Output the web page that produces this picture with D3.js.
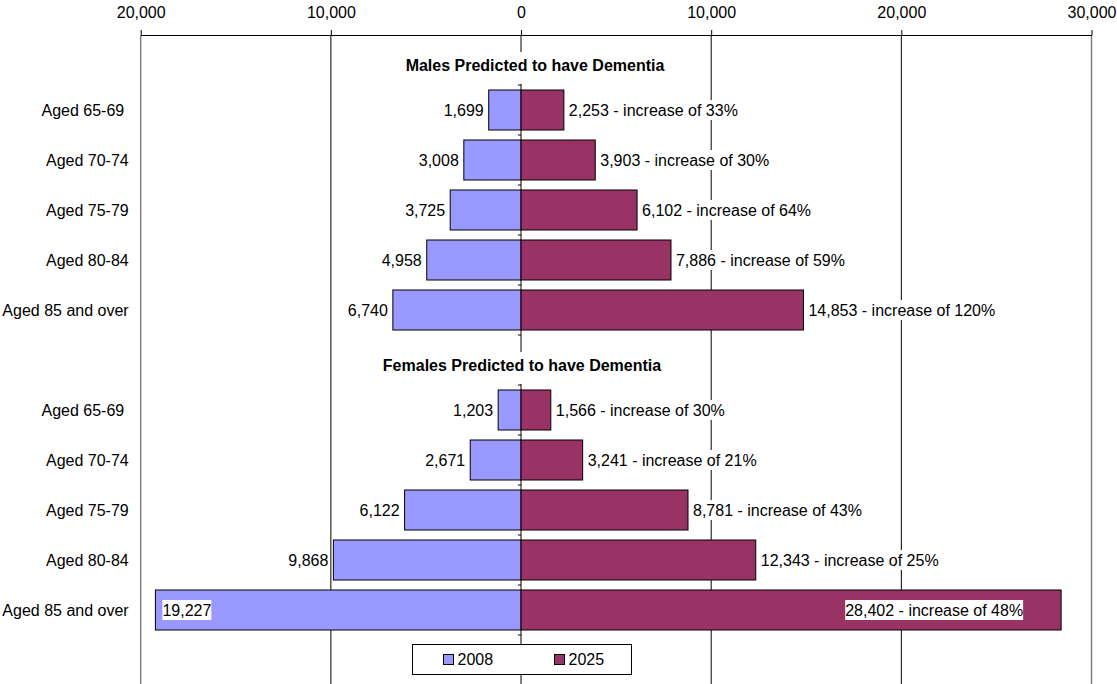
<!DOCTYPE html>
<html>
<head>
<meta charset="utf-8">
<script src="https://cdn.jsdelivr.net/npm/d3@7"></script>
<style>
  body { margin: 0; background: #fff; }
  svg { font-family: "Liberation Sans", Arial, sans-serif; }
</style>
</head>
<body>
<div id="chart"></div>
<script>
const width = 1117
const height = 684
const color_2008 = '#9999FF'
const color_2025 = '#993366'

// data
const ageGroups = ["Aged 65-69 ", "Aged 70-74", "Aged 75-79", "Aged 80-84", "Aged 85 and over"]
const groupTitles = ["Males Predicted to have Dementia", "Females Predicted to have Dementia"]
const seriesNames = ["2008", "2025"]
const males2008 = [1699, 3008, 3725, 4958, 6740]
const males2025 = [2253, 3903, 6102, 7886, 14853]
const malesIncrease = [33, 30, 64, 59, 120]
const females2008 = [1203, 2671, 6122, 9868, 19227]
const females2025 = [1566, 3241, 8781, 12343, 28402]
const femalesIncrease = [30, 21, 43, 25, 48]
const tickValues = [-20000, -10000, 0, 10000, 20000, 30000]

const fmt = d3.format(",")

// 13 slots: title, 5 rows, title, 5 rows, legend
let rows = []
const groups = [[males2008, males2025, malesIncrease], [females2008, females2025, femalesIncrease]]
groups.forEach((g, gi) => {
    rows.push({slot: rows.length, title: groupTitles[gi], gi: gi})
    ageGroups.forEach((a, i) => {
        rows.push({slot: rows.length, label: a, v2008: g[0][i], v2025: g[1][i], pct: g[2][i]})
    })
})
const legendSlot = rows.length

const svg = d3.select("#chart")
    .append("svg")
    .attr("width", width)
    .attr("height", height)

const x = d3.scaleLinear().domain([-20000, 30000]).range([140.7, 1091.5])
const y = d3.scaleBand()
    .domain(d3.range(legendSlot + 1))
    .range([35, 685])
    .paddingInner(0.2)
    .paddingOuter(0.1)
const step = y.step()
const slotTop = s => y(s) - y.paddingInner() * step / 2

/* gridlines */
svg.append("g")
    .selectAll("line")
    .data(tickValues.filter(v => v !== 0))
    .enter()
    .append("line")
    .attr("x1", d => x(d))
    .attr("x2", d => x(d))
    .attr("y1", 35)
    .attr("y2", height)
    .attr("stroke", d => (d === tickValues[0] || d === tickValues[tickValues.length - 1]) ? "#808080" : "#000")
    .attr("stroke-width", d => (d === tickValues[0] || d === tickValues[tickValues.length - 1]) ? 1.5 : 1)

/* top axis */
const axis = svg.append("g")
    .attr("transform", "translate(0,35)")
    .call(d3.axisTop(x)
        .tickValues(tickValues)
        .tickFormat(d => fmt(Math.abs(d)))
        .tickSize(5)
        .tickSizeOuter(0)
        .tickPadding(12))
axis.select(".domain").attr("stroke", "#000")
axis.selectAll(".tick line").attr("stroke", "#000")
axis.selectAll(".tick text")
    .attr("font-size", 16)
    .attr("font-family", '"Liberation Sans", Arial, sans-serif')
    .attr("fill", "#000")

/* centre axis */
svg.append("line")
    .attr("x1", x(0))
    .attr("x2", x(0))
    .attr("y1", 35)
    .attr("y2", height)
    .attr("stroke", "#000")
svg.append("g")
    .selectAll("line")
    .data(d3.range(1, legendSlot + 1))
    .enter()
    .append("line")
    .attr("x1", x(0) - 3)
    .attr("x2", x(0))
    .attr("y1", d => slotTop(d))
    .attr("y2", d => slotTop(d))
    .attr("stroke", "#000")

const dataRows = rows.filter(r => r.title === undefined)
const titleRows = rows.filter(r => r.title !== undefined)

/* bars */
svg.append("g")
    .selectAll("rect")
    .data(dataRows)
    .enter()
    .append("rect")
    .attr("x", d => x(-d.v2008))
    .attr("y", d => y(d.slot))
    .attr("width", d => x(0) - x(-d.v2008))
    .attr("height", y.bandwidth())
    .attr("fill", color_2008)
    .attr("stroke", "#000")
svg.append("g")
    .selectAll("rect")
    .data(dataRows)
    .enter()
    .append("rect")
    .attr("x", x(0))
    .attr("y", d => y(d.slot))
    .attr("width", d => x(d.v2025) - x(0))
    .attr("height", y.bandwidth())
    .attr("fill", color_2025)
    .attr("stroke", "#000")

/* category labels */
svg.append("g")
    .selectAll("text")
    .data(dataRows)
    .enter()
    .append("text")
    .attr("xml:space", "preserve")
    .style("white-space", "pre")
    .attr("x", x(-20000) - 12)
    .attr("y", d => y(d.slot) + y.bandwidth() / 2 + 6)
    .attr("text-anchor", "end")
    .attr("font-size", 16)
    .text(d => d.label)

/* group titles */
titleRows.forEach(t => {
    const g = svg.append("g")
    const bg = g.append("rect").attr("fill", "#fff")
    const txt = g.append("text")
        .attr("x", x(0) + (t.gi === 0 ? 14 : 1))
        .attr("y", y(t.slot) + y.bandwidth() / 2 + 11)
        .attr("text-anchor", "middle")
        .attr("font-size", 16)
        .attr("font-weight", "bold")
        .text(t.title)
    const w = txt.node().getComputedTextLength()
    bg.attr("x", +txt.attr("x") - w / 2 - 2)
        .attr("y", slotTop(t.slot) + 17)
        .attr("width", w + 4)
        .attr("height", step - 18)
})

/* value labels with white background */
function addLabel(str, xpos, anchor, row) {
    const g = svg.append("g")
    const bg = g.append("rect").attr("fill", "#fff")
    const txt = g.append("text")
        .attr("y", y(row.slot) + y.bandwidth() / 2 + 6)
        .attr("font-size", 16)
        .attr("fill", "#000")
        .text(str)
    const w = txt.node().getComputedTextLength()
    const x0 = anchor === "end" ? xpos - w : xpos
    txt.attr("x", x0)
    bg.attr("x", x0)
        .attr("y", y(row.slot) + y.bandwidth() / 2 - 10)
        .attr("width", w)
        .attr("height", 20)
}

dataRows.forEach(r => {
    const left = fmt(r.v2008)
    const right = `${fmt(r.v2025)} - increase of ${r.pct}%`
    // left label: outside unless it would run past the plot edge
    const lx = x(-r.v2008)
    const probeL = svg.append("text").attr("font-size", 16).text(left)
    const wl = probeL.node().getComputedTextLength()
    probeL.remove()
    if (lx - 5 - wl < x(-20000)) addLabel(left, lx + 7, "start", r)
    else addLabel(left, lx - 5, "end", r)

    const rx = x(r.v2025)
    const probeR = svg.append("text").attr("font-size", 16).text(right)
    const wr = probeR.node().getComputedTextLength()
    probeR.remove()
    if (rx + 5 + wr > x(30000)) addLabel(right, rx - 38, "end", r)
    else addLabel(right, rx + 5, "start", r)
})

/* legend */
const lg = svg.append("g")
lg.append("rect")
    .attr("x", 412.5)
    .attr("y", y(legendSlot) + 4.5)
    .attr("width", 219)
    .attr("height", 30)
    .attr("fill", "#fff")
    .attr("stroke", "#000")
const legendColors = [color_2008, color_2025]
seriesNames.forEach((s, i) => {
    const lx = 443.5 + i * 111
    lg.append("rect")
        .attr("x", lx)
        .attr("y", y(legendSlot) + 14.5)
        .attr("width", 10)
        .attr("height", 10)
        .attr("fill", legendColors[i])
        .attr("stroke", "#000")
    lg.append("text")
        .attr("x", lx + 14)
        .attr("y", y(legendSlot) + 25)
        .attr("font-size", 16)
        .text(s)
})
</script>
</body>
</html>
